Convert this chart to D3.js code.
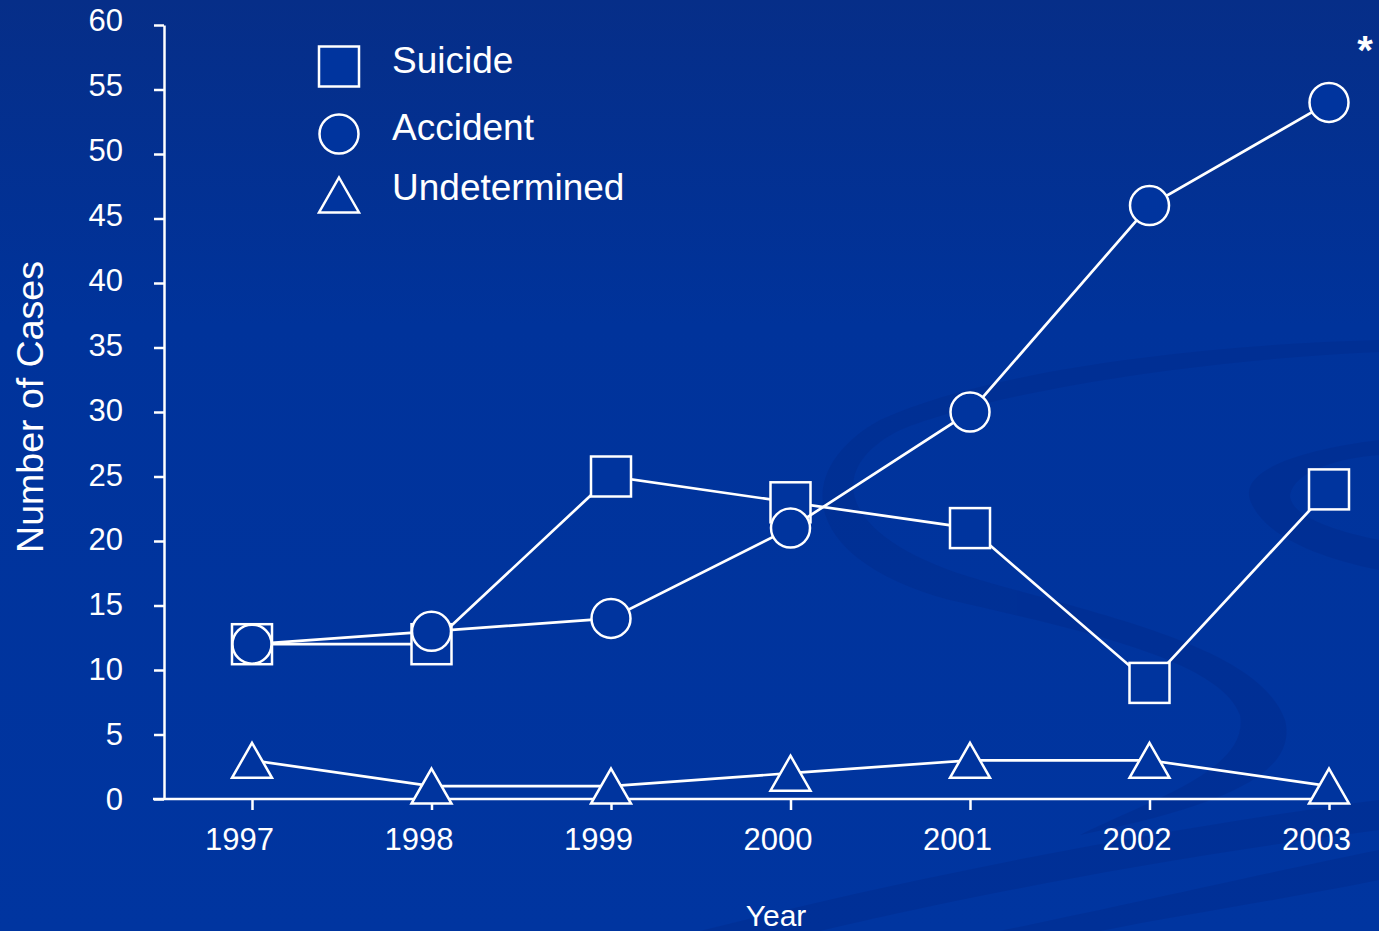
<!DOCTYPE html>
<html>
<head>
<meta charset="utf-8">
<script src="https://cdn.jsdelivr.net/npm/d3@7"></script>
<style>
  html, body { margin: 0; padding: 0; background: #00339c; overflow: hidden; }
  svg { display: block; }
  text { font-family: Arial, "Liberation Sans", sans-serif; fill: #ffffff; }
</style>
</head>
<body>
<svg id="chart" width="1379" height="931"></svg>
<script>
// ---- data ----
const years = [1997, 1998, 1999, 2000, 2001, 2002, 2003];
const suicide = [12, 12, 25, 23, 21, 9, 24];
const accident = [12, 13, 14, 21, 30, 46, 54];
const undetermined = [3, 1, 1, 2, 3, 3, 1];
const yTicks = [0, 5, 10, 15, 20, 25, 30, 35, 40, 45, 50, 55, 60];
const seriesNames = ["Suicide", "Accident", "Undetermined"];
const xTitle = "Year";
const yTitle = "Number of Cases";
const note = "*";

// ---- setup ----
const W = 1379, H = 931;
const svg = d3.select("#chart");
const markFill = "#00349e";

const defs = svg.append("defs");
const grad = defs.append("linearGradient").attr("id", "bg").attr("x1", 0).attr("y1", 0).attr("x2", 0).attr("y2", 1);
grad.append("stop").attr("offset", "0%").attr("stop-color", "#062e88");
grad.append("stop").attr("offset", "35%").attr("stop-color", "#00339b");
grad.append("stop").attr("offset", "100%").attr("stop-color", "#0035a0");
svg.append("rect").attr("width", W).attr("height", H).attr("fill", "url(#bg)");

// decorative swirl (background)
const swirl = svg.append("g").attr("fill", "#002a8a").attr("opacity", 0.4);
swirl.append("path").attr("d",
  "M1379,352 C1200,360 1000,390 900,430 C820,470 840,540 980,580 C1120,620 1260,650 1285,720 C1300,780 1200,810 1080,835 " +
  "C1150,800 1250,770 1240,715 C1220,660 1080,630 950,600 C800,560 790,470 880,420 C990,370 1200,345 1379,340 Z");
swirl.append("path").attr("d",
  "M1379,440 C1300,450 1240,470 1250,500 C1265,540 1330,560 1379,570 L1379,540 C1330,530 1290,515 1290,495 C1295,470 1340,458 1379,455 Z");
swirl.append("path").attr("d",
  "M700,931 C900,880 1150,830 1379,800 L1379,830 C1150,860 950,900 820,931 Z");
swirl.append("path").attr("d",
  "M1000,931 C1150,900 1280,870 1379,850 L1379,880 C1280,900 1180,915 1100,931 Z");

// ---- scales ----
const x = d3.scaleLinear().domain([1997, 2003]).range([252, 1329]);
const y = d3.scaleLinear().domain([0, 60]).range([799, 25]);
const axisX0 = 164;

// ---- axes ----
const yAxis = svg.append("g").attr("transform", `translate(${axisX0},0)`)
  .call(d3.axisLeft(y).tickValues(yTicks).tickSize(10).tickSizeOuter(0).tickFormat(d3.format("d")));
yAxis.select(".domain").attr("stroke", "#fff").attr("stroke-width", 2.5);
yAxis.selectAll(".tick line").attr("stroke", "#fff").attr("stroke-width", 2.5);
yAxis.selectAll(".tick text")
  .attr("x", -41).attr("dy", null).attr("y", d => 10.5 - d * 0.08)
  .attr("font-size", 31).attr("font-family", "Arial, 'Liberation Sans', sans-serif")
  .attr("fill", "#fff").attr("text-anchor", "end");

const xAxis = svg.append("g").attr("transform", `translate(0,${y(0)})`)
  .call(d3.axisBottom(x).tickValues(years).tickSize(11).tickSizeOuter(0).tickFormat(d3.format("d")));
xAxis.select(".domain").remove();
xAxis.selectAll(".tick line").attr("stroke", "#fff").attr("stroke-width", 2.5);
xAxis.selectAll(".tick text")
  .attr("x", -13).attr("dy", null).attr("y", 51)
  .attr("font-size", 31).attr("font-family", "Arial, 'Liberation Sans', sans-serif")
  .attr("fill", "#fff").attr("text-anchor", "middle");
xAxis.append("line").attr("x1", 153).attr("x2", 1342).attr("y1", 0).attr("y2", 0)
  .attr("stroke", "#fff").attr("stroke-width", 2.5);

// axis titles
svg.append("text").attr("x", 776).attr("y", 926).attr("text-anchor", "middle")
  .attr("font-size", 30).text(xTitle);
svg.append("text").attr("transform", "translate(43,407) rotate(-90)").attr("text-anchor", "middle")
  .attr("font-size", 37.5).text(yTitle);
svg.append("text").attr("x", 1365).attr("y", 64).attr("text-anchor", "middle")
  .attr("font-size", 40).attr("font-weight", "bold").text(note);

// ---- markers ----
const SQ = 40, R = 19.5, TW = 40, TH = 35;
function drawMarker(g, kind, cx, cy) {
  const common = s => s.attr("fill", markFill).attr("stroke", "#fff").attr("stroke-width", 2.5);
  if (kind === "square") {
    common(g.append("rect").attr("x", cx - SQ / 2).attr("y", cy - SQ / 2).attr("width", SQ).attr("height", SQ));
  } else if (kind === "circle") {
    common(g.append("circle").attr("cx", cx).attr("cy", cy).attr("r", R));
  } else {
    const pts = [[cx, cy - TH / 2], [cx + TW / 2, cy + TH / 2], [cx - TW / 2, cy + TH / 2]];
    common(g.append("polygon").attr("points", pts.map(p => p.join(",")).join(" ")).attr("stroke-linejoin", "miter"));
  }
}

const series = [
  { name: seriesNames[0], values: suicide, kind: "square" },
  { name: seriesNames[1], values: accident, kind: "circle" },
  { name: seriesNames[2], values: undetermined, kind: "triangle" }
];

const line = d3.line().x((d, i) => x(years[i])).y(d => y(d));
series.forEach(s => {
  const g = svg.append("g");
  g.append("path").datum(s.values).attr("d", line)
    .attr("fill", "none").attr("stroke", "#fff").attr("stroke-width", 2.7);
  s.values.forEach((v, i) => drawMarker(g, s.kind, x(years[i]), y(v)));
});

// ---- legend ----
const legend = svg.append("g");
const legMarkY = [66.5, 134, 195];
const legTextY = [72.5, 140, 200];
series.forEach((s, i) => {
  drawMarker(legend, s.kind, 339, legMarkY[i]);
  legend.append("text").attr("x", 392).attr("y", legTextY[i]).attr("font-size", 37).text(s.name);
});
</script>
</body>
</html>
